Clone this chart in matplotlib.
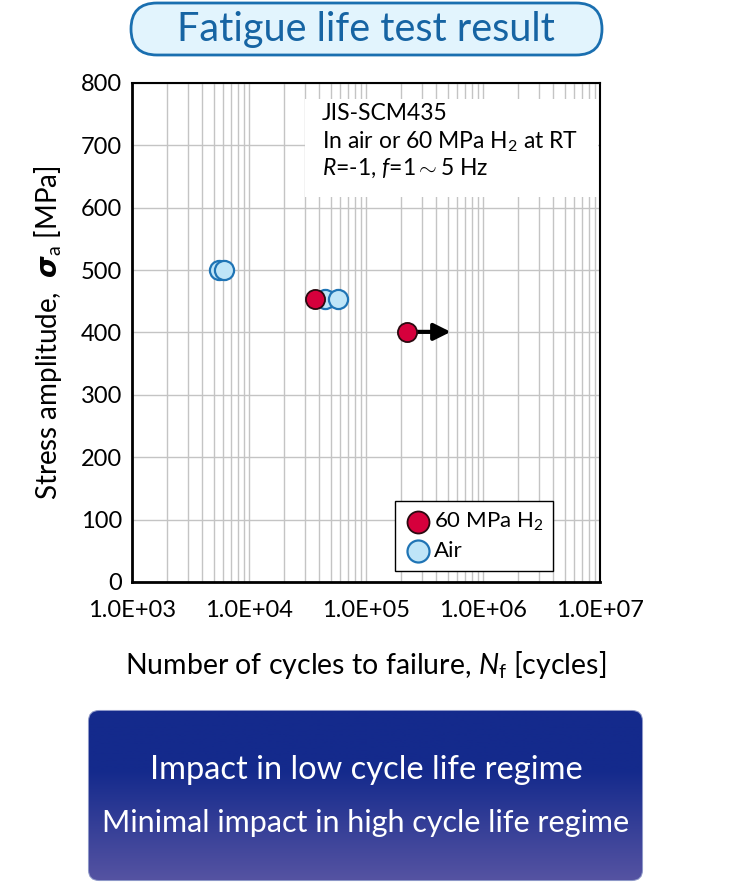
import matplotlib
matplotlib.use("Agg")
import matplotlib.pyplot as plt
import numpy as np
from matplotlib.patches import FancyBboxPatch, Rectangle
from matplotlib.ticker import LogLocator, FixedLocator

plt.rcParams['font.family'] = ['Lato', 'DejaVu Sans']
plt.rcParams['mathtext.fontset'] = 'custom'
plt.rcParams['mathtext.rm'] = 'Lato'
plt.rcParams['mathtext.it'] = 'Lato:italic'
plt.rcParams['mathtext.bf'] = 'DejaVu Sans:italic:bold'

# Data
h2_cycles = [36600, 224000]
h2_stress = [453, 401]
air_cycles = [5500, 6100, 44700, 57700]
air_stress = [501, 501, 453, 453]
runout_start = 224000
runout_end = 530000
runout_stress = 401

x_ticks = [1e3, 1e4, 1e5, 1e6, 1e7]
x_tick_labels = ['1.0E+03', '1.0E+04', '1.0E+05', '1.0E+06', '1.0E+07']
y_ticks = [0, 100, 200, 300, 400, 500, 600, 700, 800]

W, H = 735, 882
fig = plt.figure(figsize=(W / 100, H / 100), dpi=100)

# overlay in pixel coordinates for the title/summary boxes
bg = fig.add_axes([0, 0, 1, 1], zorder=0)
bg.set_xlim(0, W)
bg.set_ylim(H, 0)
bg.axis('off')

title_box = FancyBboxPatch((131, 3), 471, 52, boxstyle="round,pad=0,rounding_size=26",
                           facecolor='#e2f4fd', edgecolor='#1a6fb0', linewidth=2)
bg.add_patch(title_box)
bg.text(366, 30, 'Fatigue life test result', ha='center', va='center',
        fontsize=28.5, color='#1664a3')

sum_box = FancyBboxPatch((89, 711), 553, 169, boxstyle="round,pad=0,rounding_size=10",
                         facecolor='none', edgecolor='#8e98c8', linewidth=1.5)
bg.add_patch(sum_box)
grad = np.linspace(0, 1, 256).reshape(-1, 1)
top_c = np.array([0x14, 0x2a, 0x8c]) / 255
bot_c = np.array([0x55, 0x53, 0xa2]) / 255
t = np.clip((grad - 0.35) / 0.65, 0, 1)
img = top_c * (1 - t[..., None]) + bot_c * t[..., None]
im = bg.imshow(img, extent=[89, 642, 880, 711], aspect='auto', zorder=1)
im.set_clip_path(sum_box)
bg.set_xlim(0, W)
bg.set_ylim(H, 0)
bg.text(366, 770, 'Impact in low cycle life regime', ha='center', va='center',
        fontsize=23.5, color='white', zorder=3)
bg.text(366, 823, 'Minimal impact in high cycle life regime', ha='center', va='center',
        fontsize=22, color='white', zorder=3)

# main chart
ax = fig.add_axes([132 / W, 1 - 582 / H, 468 / W, 499 / H], zorder=2)
ax.set_xscale('log')
ax.set_xlim(1e3, 1e7)
ax.set_ylim(0, 800)
ax.xaxis.set_major_locator(FixedLocator(x_ticks))
ax.set_xticklabels(x_tick_labels)
ax.xaxis.set_minor_locator(LogLocator(base=10, subs=np.arange(2, 10)))
ax.set_yticks(y_ticks)
ax.grid(True, which='major', color='#c4c4c4', linewidth=1.0)
ax.grid(True, which='minor', axis='x', color='#c4c4c4', linewidth=1.0)
ax.set_axisbelow(True)
ax.tick_params(axis='y', which='both', length=0, labelsize=17, pad=7)
ax.tick_params(axis='x', which='both', length=0, labelsize=17, pad=13)
for side in ['left', 'bottom']:
    ax.spines[side].set_linewidth(2.0)
for side in ['top', 'right']:
    ax.spines[side].set_linewidth(1.5)

# condition box
ax.add_patch(Rectangle((0.37, 0.772), 0.625, 0.195, transform=ax.transAxes,
                       facecolor='white', edgecolor='none', zorder=1.5))
ax.text(0.405, 0.938, 'JIS-SCM435', transform=ax.transAxes, fontsize=16.5,
        va='center', zorder=3)
ax.text(0.405, 0.883, 'In air or 60 MPa H$_2$ at RT', transform=ax.transAxes,
        fontsize=16.5, va='center', zorder=3)
ax.text(0.405, 0.828, '$R$=-1, $f$=1$\\sim$5 Hz', transform=ax.transAxes,
        fontsize=16.5, va='center', zorder=3)

ax.scatter(air_cycles, air_stress, s=190, facecolor='#bfe5f8', edgecolor='#1f74b5',
           linewidth=1.6, zorder=4, label='Air')
ax.scatter(h2_cycles, h2_stress, s=190, facecolor='#d6003c', edgecolor='#2a0a10',
           linewidth=1.3, zorder=5, label='60 MPa H$_2$')
ax.annotate('', xy=(runout_end, runout_stress), xytext=(runout_start * 1.12, runout_stress),
            arrowprops=dict(arrowstyle='-|>,head_length=1.0,head_width=0.5',
                            color='black', linewidth=3, shrinkA=0, shrinkB=0), zorder=4)

handles, labels = ax.get_legend_handles_labels()
leg = ax.legend(handles[::-1], labels[::-1], loc='lower right',
                bbox_to_anchor=(0.9, 0.022), fontsize=16, frameon=True,
                fancybox=False, edgecolor='black', framealpha=1,
                handletextpad=0.1, borderpad=0.45, labelspacing=0.35,
                handlelength=1.2, borderaxespad=0, markerscale=1.15)
leg.get_frame().set_linewidth(1.0)
leg.set_zorder(6)

ax.set_xlabel('Number of cycles to failure, $N_\\mathrm{f}$ [cycles]', fontsize=20.5,
              labelpad=20)
ax.set_ylabel('Stress amplitude,  $\\mathbf{\\sigma}_\\mathrm{a}$ [MPa]', fontsize=20,
              labelpad=12)

fig.savefig('out.png', dpi=100)
